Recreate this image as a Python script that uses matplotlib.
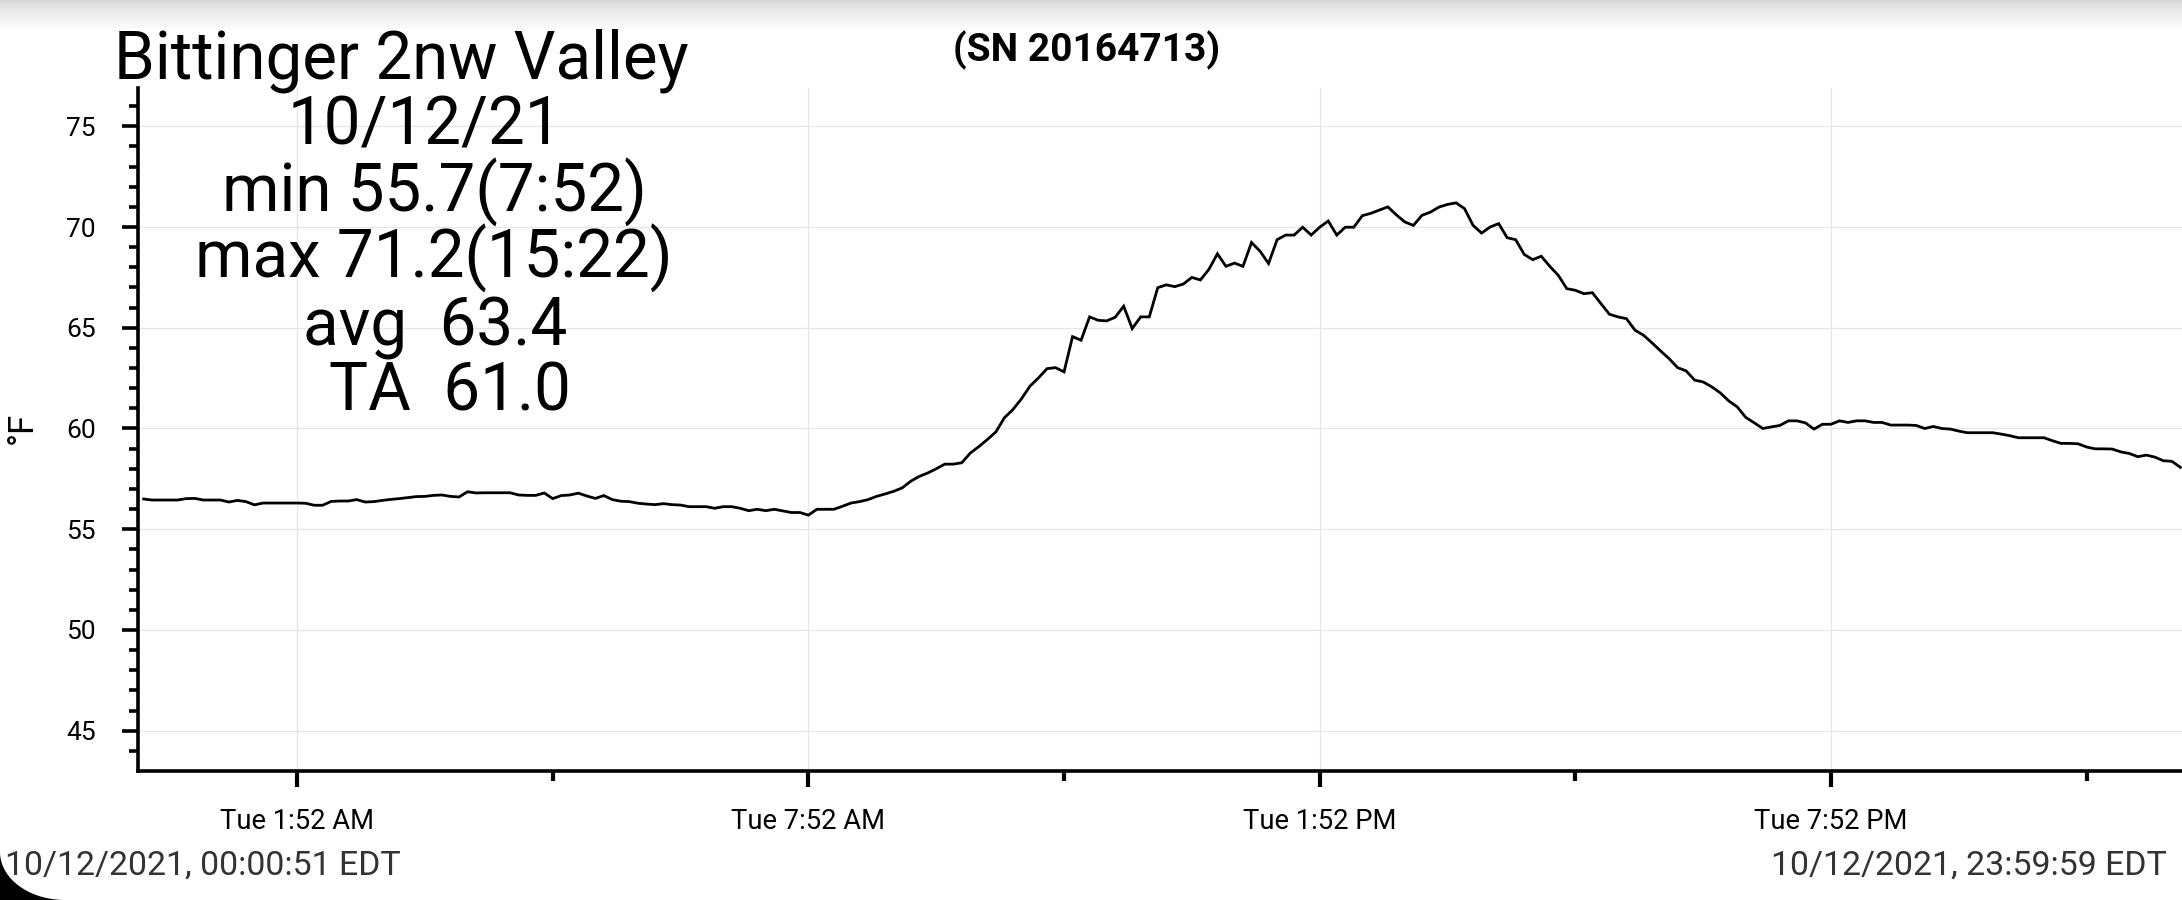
import numpy as np
import pandas as pd
import matplotlib
matplotlib.use("Agg")
import matplotlib.pyplot as plt
from matplotlib.patches import Polygon

plt.rcParams['font.family'] = ['Roboto', 'DejaVu Sans']

# logger summary block
site_name = "Bittinger 2nw Valley"
summary_lines = ["10/12/21", "min 55.7(7:52)", "max 71.2(15:22)", "avg  63.4", "TA  61.0"]
serial_text = "(SN 20164713)"
range_start_text = "10/12/2021, 00:00:51 EDT"
range_end_text = "10/12/2021, 23:59:59 EDT"
y_label = "°F"

# readings in deg F, one every 6 minutes starting 00:04:51
temp_night = [
    56.50, 56.45, 56.45, 56.45, 56.45, 56.52, 56.53, 56.45, 56.45, 56.45,
    56.35, 56.43, 56.37, 56.21, 56.30, 56.30, 56.30, 56.30, 56.30, 56.29,
    56.19, 56.19, 56.38, 56.40, 56.40, 56.47, 56.35, 56.37, 56.43, 56.48,
    56.52, 56.57, 56.62, 56.63, 56.68, 56.70, 56.63, 56.60, 56.86, 56.80,
    56.81, 56.81, 56.81, 56.81, 56.70, 56.68, 56.68, 56.80, 56.52, 56.67,
    56.70, 56.79, 56.65, 56.53, 56.67, 56.47, 56.39, 56.37, 56.29, 56.25,
]
temp_morning = [
    56.22, 56.27, 56.22, 56.20, 56.12, 56.12, 56.12, 56.04, 56.12, 56.12,
    56.04, 55.92, 55.99, 55.92, 55.99, 55.91, 55.83, 55.83, 55.70, 55.99,
    55.99, 55.99, 56.14, 56.30, 56.37, 56.47, 56.63, 56.75, 56.88, 57.05,
    57.38, 57.62, 57.79, 58.00, 58.23, 58.23, 58.30, 58.78, 59.10, 59.45,
    59.83, 60.53, 60.94, 61.47, 62.10, 62.51, 62.97, 63.02, 62.81, 64.56,
    64.38, 65.54, 65.37, 65.34, 65.52, 66.07, 64.96, 65.54, 65.54, 66.99,
]
temp_afternoon = [
    67.13, 67.04, 67.17, 67.50, 67.37, 67.90, 68.67, 68.05, 68.21, 68.05,
    69.23, 68.80, 68.19, 69.37, 69.60, 69.60, 69.99, 69.60, 69.99, 70.30,
    69.60, 69.99, 69.99, 70.56, 70.68, 70.84, 71.00, 70.60, 70.25, 70.08,
    70.58, 70.74, 70.99, 71.12, 71.20, 70.91, 70.08, 69.70, 70.00, 70.17,
    69.47, 69.37, 68.64, 68.38, 68.55, 68.05, 67.60, 66.94, 66.86, 66.69,
    66.74, 66.20, 65.67, 65.54, 65.45, 64.88, 64.63, 64.25, 63.85, 63.47,
]
temp_evening = [
    63.02, 62.86, 62.40, 62.31, 62.07, 61.77, 61.37, 61.07, 60.55, 60.28,
    60.00, 60.08, 60.15, 60.38, 60.38, 60.28, 59.97, 60.21, 60.21, 60.38,
    60.30, 60.38, 60.38, 60.30, 60.30, 60.17, 60.17, 60.17, 60.15, 60.00,
    60.10, 60.00, 59.97, 59.87, 59.79, 59.79, 59.79, 59.79, 59.72, 59.64,
    59.54, 59.54, 59.54, 59.54, 59.39, 59.26, 59.26, 59.24, 59.08, 58.99,
    58.99, 58.98, 58.84, 58.76, 58.60, 58.68, 58.58, 58.40, 58.37, 58.07,
]

first_reading = "2021-10-12 00:04:51"
log_interval = "6min"
view_start = "2021-10-12 00:00:51"
view_end = "2021-10-12 23:59:59"

major_ticks = ["2021-10-12 01:52:51", "2021-10-12 07:52:51",
               "2021-10-12 13:52:51", "2021-10-12 19:52:51"]
major_labels = ["Tue 1:52 AM", "Tue 7:52 AM", "Tue 1:52 PM", "Tue 7:52 PM"]
minor_ticks = ["2021-10-12 04:52:51", "2021-10-12 10:52:51",
               "2021-10-12 16:52:51", "2021-10-12 22:52:51"]
y_major = [45, 50, 55, 60, 65, 70, 75]
y_minor = list(range(44, 77))

temps = temp_night + temp_morning + temp_afternoon + temp_evening
times = pd.date_range(first_reading, periods=len(temps), freq=log_interval)

W, H = 2182, 900


def fig_xy(x, y):
    # pixel position (from top-left) -> figure fraction
    return x / W, 1 - y / H


fig = plt.figure(figsize=(W / 100, H / 100), dpi=100)
fig.patch.set_facecolor("white")

# grey shade at top of screenshot
shade = fig.add_axes([0, 1 - 34 / H, 1, 34 / H], zorder=-5)
grad = np.linspace(0, 1, 34) ** 0.7
shade.imshow((0.84 + 0.16 * grad)[:, None], cmap="gray", vmin=0, vmax=1,
             aspect="auto", interpolation="bilinear")
shade.axis("off")

ax = fig.add_axes([138 / W, 1 - 771 / H, (W - 138) / W, (771 - 88) / H])
ax.plot(times.values, temps, color="black", linewidth=2.0, solid_joinstyle="miter")
ax.set_xlim(pd.Timestamp(view_start), pd.Timestamp(view_end))
ax.set_ylim(43, 76.9)

ax.set_xticks(pd.to_datetime(major_ticks))
ax.set_xticklabels(major_labels)
ax.set_xticks(pd.to_datetime(minor_ticks), minor=True)
ax.set_yticks(y_major)
ax.set_yticks(y_minor, minor=True)

ax.grid(True, which="major", color="#e6e6e6", linewidth=0.9)
ax.set_axisbelow(True)

for side in ["top", "right"]:
    ax.spines[side].set_visible(False)
for side in ["left", "bottom"]:
    ax.spines[side].set_linewidth(2.6)

ax.tick_params(axis="y", which="major", length=11.5, width=2.6, pad=19, labelsize=19)
ax.tick_params(axis="y", which="minor", length=6.5, width=2.6)
ax.tick_params(axis="x", which="major", length=11.5, width=3.0, pad=15, labelsize=19.7)
ax.tick_params(axis="x", which="minor", length=7, width=3.0)

# summary text block
big = 47.2
fig.text(*fig_xy(401.5, 78.3), site_name, ha="center", va="baseline", fontsize=big)
line_centres = [425, 434, 434, 435, 450]
line_baselines = [145, 211.7, 277.3, 345, 410.7]
for txt, cx, by in zip(summary_lines, line_centres, line_baselines):
    fig.text(*fig_xy(cx, by), txt, ha="center", va="baseline", fontsize=big)

fig.text(*fig_xy(1087, 61), serial_text, ha="center", va="baseline",
         fontsize=28, fontweight="bold")
fig.text(*fig_xy(22, 428), y_label, ha="center", va="center", rotation=90, fontsize=25)

fig.text(*fig_xy(5, 875), range_start_text, ha="left", va="baseline",
         fontsize=24.4, color="#333333")
fig.text(*fig_xy(2167, 875), range_end_text, ha="right", va="baseline",
         fontsize=24.4, color="#333333")

# rounded screen corner, bottom left
t = np.linspace(0, np.pi / 2, 40)
arc = np.column_stack([65 - 65 * np.cos(t), 852 + 48 * np.sin(t)])
corner = np.vstack([[[0, 900]], arc])
fig.patches.append(Polygon([fig_xy(px, py) for px, py in corner], closed=True,
                           transform=fig.transFigure, facecolor="black",
                           edgecolor="none", figure=fig))

fig.savefig("out.png", dpi=100)
